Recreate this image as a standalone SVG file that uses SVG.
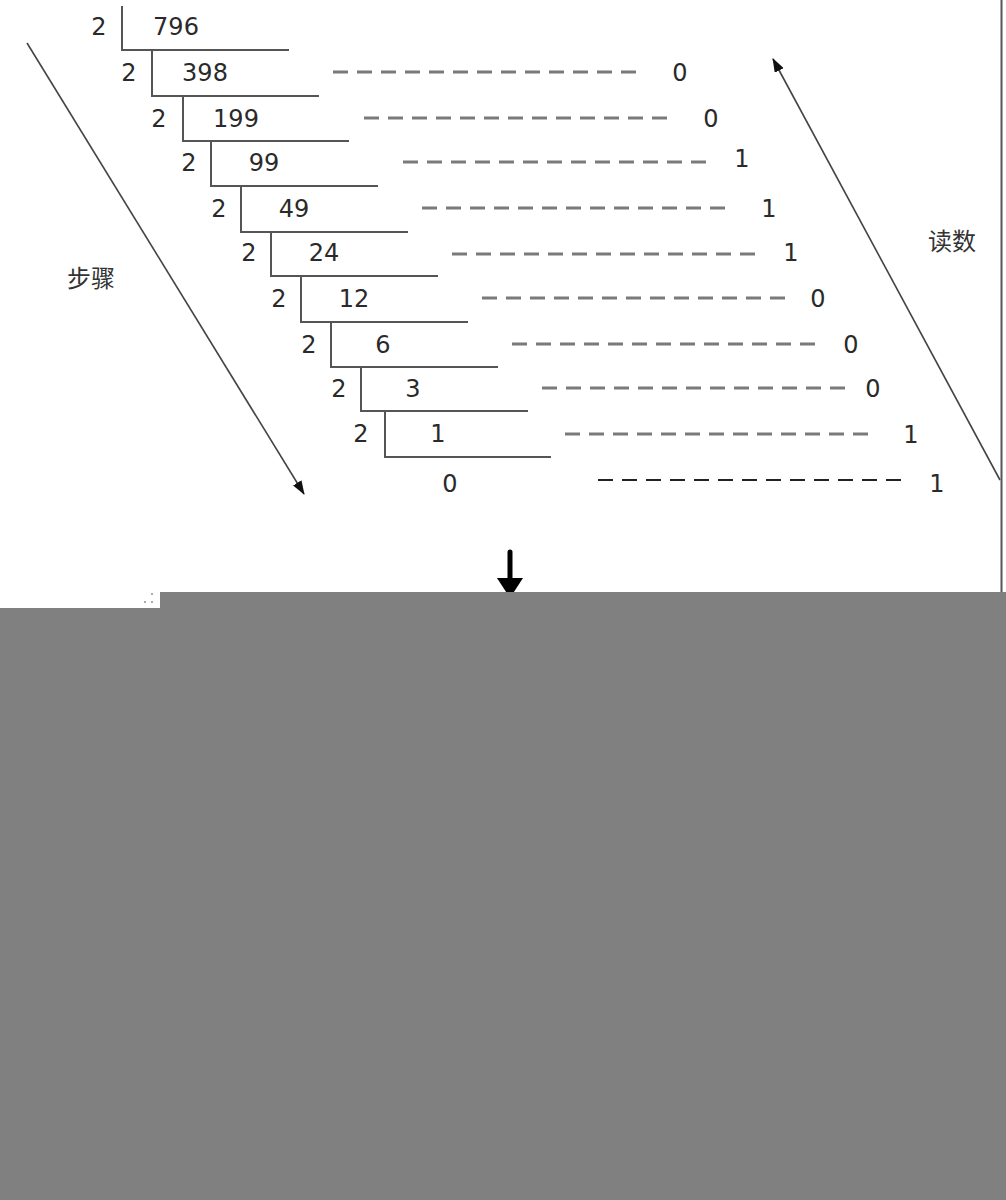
<svg xmlns="http://www.w3.org/2000/svg" width="1006" height="1200" viewBox="0 0 1006 1200">
<style>
.t{font-family:"DejaVu Sans","Liberation Sans",sans-serif;font-size:24px;fill:#2a2a2a;text-anchor:middle}
.cj{font-family:"Noto Sans CJK SC","DejaVu Sans",sans-serif;font-size:24px;fill:#333}
.br{fill:none;stroke:#555;stroke-width:2}
.d{stroke:#7a7a7a;stroke-width:3;stroke-dasharray:15 9}
.d2{stroke:#222;stroke-width:2;stroke-dasharray:15 9}
.ar{stroke:#444;stroke-width:1.6;fill:none}
</style>
<defs>
<marker id="ah" markerWidth="14" markerHeight="10" refX="13" refY="5" orient="auto" markerUnits="userSpaceOnUse">
<path d="M0,0 L14,5 L0,10 Z" fill="#111"/>
</marker>
</defs>
<rect width="1006" height="1200" fill="#fff"/>
<g id="division">
<path class="br" d="M122,6 V50 H289"/>
<path class="br" d="M152,50 V96 H319"/>
<path class="br" d="M183,96 V141 H349"/>
<path class="br" d="M211,141 V186 H378"/>
<path class="br" d="M241,186 V232 H408"/>
<path class="br" d="M271,232 V276 H438"/>
<path class="br" d="M301,276 V322 H468"/>
<path class="br" d="M331,322 V367 H498"/>
<path class="br" d="M361,367 V411 H528"/>
<path class="br" d="M385,411 V457 H551"/>
<text class="t" x="99" y="35">2</text><text class="t" x="176" y="35">796</text>
<text class="t" x="129" y="81">2</text><text class="t" x="205" y="81">398</text>
<text class="t" x="159" y="127">2</text><text class="t" x="236" y="127">199</text>
<text class="t" x="189" y="171">2</text><text class="t" x="264" y="171">99</text>
<text class="t" x="219" y="217">2</text><text class="t" x="294" y="217">49</text>
<text class="t" x="249" y="261">2</text><text class="t" x="324" y="261">24</text>
<text class="t" x="279" y="307">2</text><text class="t" x="354" y="307">12</text>
<text class="t" x="309" y="353">2</text><text class="t" x="383" y="353">6</text>
<text class="t" x="339" y="397">2</text><text class="t" x="413" y="397">3</text>
<text class="t" x="361" y="442">2</text><text class="t" x="438" y="442">1</text>
<text class="t" x="450" y="492">0</text>
</g>
<g id="connectors">
<line class="d" x1="333" y1="72" x2="636" y2="72"/>
<line class="d" x1="364" y1="118" x2="667" y2="118"/>
<line class="d" x1="403" y1="162" x2="706" y2="162"/>
<line class="d" x1="422" y1="208" x2="725" y2="208"/>
<line class="d" x1="452" y1="254" x2="755" y2="254"/>
<line class="d" x1="482" y1="298" x2="785" y2="298"/>
<line class="d" x1="512" y1="344" x2="815" y2="344"/>
<line class="d" x1="542" y1="388" x2="845" y2="388"/>
<line class="d" x1="565" y1="434" x2="868" y2="434"/>
<line class="d2" x1="598" y1="480" x2="901" y2="480"/>
<line class="ar" x1="27" y1="43" x2="304" y2="494" marker-end="url(#ah)"/>
<line class="ar" x1="1000" y1="480" x2="773" y2="59" marker-end="url(#ah)"/>
<line x1="510" y1="552" x2="510" y2="582" stroke="#000" stroke-width="5" stroke-linecap="round"/>
<path d="M497,578 L523,578 L510,598 Z" fill="#000"/>
</g>
<g id="remainders">
<text class="t" x="680" y="81">0</text>
<text class="t" x="711" y="127">0</text>
<text class="t" x="742" y="167">1</text>
<text class="t" x="769" y="217">1</text>
<text class="t" x="791" y="261">1</text>
<text class="t" x="818" y="307">0</text>
<text class="t" x="851" y="353">0</text>
<text class="t" x="873" y="397">0</text>
<text class="t" x="911" y="443">1</text>
<text class="t" x="937" y="492">1</text>
</g>
<g id="labels">
<text class="cj" x="67" y="287">步骤</text>
<text class="cj" x="928" y="250">读数</text>
</g>
<line x1="1001.5" y1="0" x2="1001.5" y2="593" stroke="#555" stroke-width="2"/>
<g id="cover">
<path d="M160,592 H1006 V1200 H0 V608 H160 Z" fill="#808080"/>
<g fill="#aaa">
<rect x="151" y="593" width="2" height="2"/>
<rect x="144" y="601" width="2" height="2"/>
<rect x="151" y="601" width="2" height="2"/>
</g>
</g>
</svg>
